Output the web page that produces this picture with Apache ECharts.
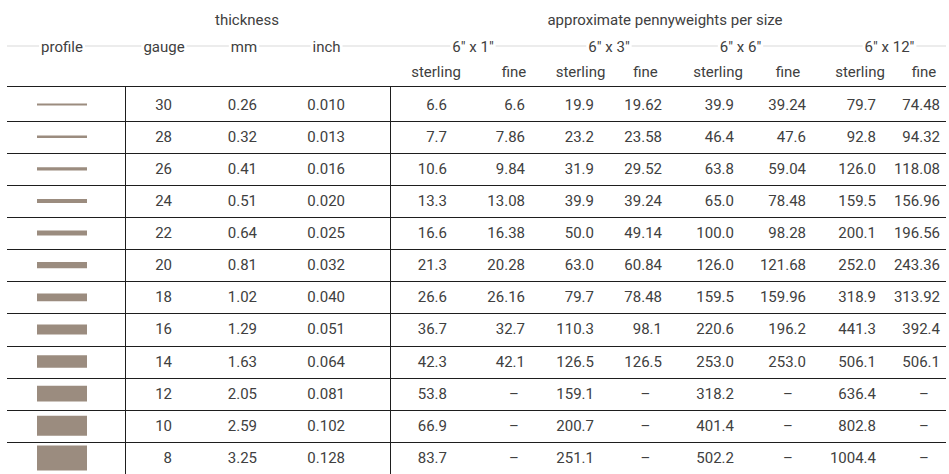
<!DOCTYPE html>
<html>
<head>
<meta charset="utf-8">
<script src="https://cdn.jsdelivr.net/npm/echarts@6/dist/echarts.min.js"></script>
<style>
html,body{margin:0;padding:0;background:#fff;}
#chart{width:949px;height:474px;}
</style>
</head>
<body>
<div id="chart"></div>
<script>
// ---- data ----
const gauge = [30, 28, 26, 24, 22, 20, 18, 16, 14, 12, 10, 8];
const mm = [0.26, 0.32, 0.41, 0.51, 0.64, 0.81, 1.02, 1.29, 1.63, 2.05, 2.59, 3.25];
const inch = [0.010, 0.013, 0.016, 0.020, 0.025, 0.032, 0.040, 0.051, 0.064, 0.081, 0.102, 0.128];
const sterling1 = [6.6, 7.7, 10.6, 13.3, 16.6, 21.3, 26.6, 36.7, 42.3, 53.8, 66.9, 83.7];
const fine1 = [6.6, 7.86, 9.84, 13.08, 16.38, 20.28, 26.16, 32.7, 42.1, null, null, null];
const sterling3 = [19.9, 23.2, 31.9, 39.9, 50.0, 63.0, 79.7, 110.3, 126.5, 159.1, 200.7, 251.1];
const fine3 = [19.62, 23.58, 29.52, 39.24, 49.14, 60.84, 78.48, 98.1, 126.5, null, null, null];
const sterling6 = [39.9, 46.4, 63.8, 65.0, 100.0, 126.0, 159.5, 220.6, 253.0, 318.2, 401.4, 502.2];
const fine6 = [39.24, 47.6, 59.04, 78.48, 98.28, 121.68, 159.96, 196.2, 253.0, null, null, null];
const sterling12 = [79.7, 92.8, 126.0, 159.5, 200.1, 252.0, 318.9, 441.3, 506.1, 636.4, 802.8, 1004.4];
const fine12 = [74.48, 94.32, 118.08, 156.96, 196.56, 243.36, 313.92, 392.4, 506.1, null, null, null];
const headTop = ['thickness', 'approximate pennyweights per size'];
const headMid = ['profile', 'gauge', 'mm', 'inch', '6" x 1"', '6" x 3"', '6" x 6"', '6" x 12"'];
const headSub = ['sterling', 'fine'];

// ---- layout ----
const FONT = '15px Roboto, "Noto Sans", sans-serif';
const TXT = '#404040';
const LINE = '#1e1e1e';
const PROFILE = '#9b8c7f';
const fmtS = v => v.toFixed(1);
const fmtF = v => Number.isInteger(v) ? v.toFixed(1) : String(v);
// column: values, formatter, header center x, right edge for values
const columns = [
  {v: gauge, f: v => String(v), c: 164, r: 172},
  {v: mm, f: v => v.toFixed(2), c: 244, r: 257},
  {v: inch, f: v => v.toFixed(3), c: 326.5, r: 345},
  {v: sterling1, f: fmtS, c: 436, r: 447},
  {v: fine1, f: fmtF, c: 514, r: 525},
  {v: sterling3, f: fmtS, c: 580.5, r: 594},
  {v: fine3, f: fmtF, c: 645.5, r: 662},
  {v: sterling6, f: fmtS, c: 718, r: 734},
  {v: fine6, f: fmtF, c: 788, r: 806},
  {v: sterling12, f: fmtS, c: 860, r: 876},
  {v: fine12, f: fmtF, c: 924, r: 940}
];
const groupCenters = [473, 609, 740.5, 889.5];
const profileX = 62, profileW = 50, profileScale = 7.7;
const tableL = 7, tableR = 946;
const headerLineY = 86;
const vLines = [125.5, 390.5];

const chart = echarts.init(document.getElementById('chart'), null, {renderer: 'svg'});

function renderRow(params, api) {
  const i = params.dataIndex;
  const p = api.coord([0, i]);
  const yc = p[1];
  const rh = api.size([0, 1])[1];
  const children = [];
  const ph = mm[i] * profileScale;
  const px = api.coord([profileX - profileW / 2, i])[0];
  children.push({type: 'rect', shape: {x: px, y: yc - ph / 2, width: profileW, height: ph}, style: {fill: PROFILE}});
  columns.forEach(col => {
    const val = col.v[i];
    if (val === null || val === undefined) {
      children.push({type: 'text', style: {text: '\u2013', x: api.coord([col.c, i])[0], y: yc, align: 'center', verticalAlign: 'middle', font: FONT, fill: TXT}});
    } else {
      children.push({type: 'text', style: {text: col.f(val), x: api.coord([col.r, i])[0], y: yc, align: 'right', verticalAlign: 'middle', font: FONT, fill: TXT}});
    }
  });
  if (i < gauge.length - 1) {
    const ly = Math.round(yc + rh / 2) + 0.5;
    children.push({type: 'line', shape: {x1: tableL, y1: ly, x2: tableR, y2: ly}, style: {stroke: LINE, lineWidth: 1}});
  }
  return {type: 'group', children: children};
}

const graphics = [];
graphics.push({type: 'rect', z: 1, shape: {x: tableL, y: 45, width: tableR - tableL, height: 2}, style: {fill: '#ececec'}});
graphics.push({type: 'line', z: 5, shape: {x1: tableL, y1: headerLineY + 0.5, x2: tableR, y2: headerLineY + 0.5}, style: {stroke: LINE, lineWidth: 1}});
vLines.forEach(x => graphics.push({type: 'line', z: 5, shape: {x1: x, y1: headerLineY, x2: x, y2: 474}, style: {stroke: LINE, lineWidth: 1}}));
function htext(t, x, y, bg) {
  const s = {text: t, font: FONT, fill: TXT, align: 'center', verticalAlign: 'middle'};
  if (bg) { s.backgroundColor = '#fff'; s.padding = [2, 2]; }
  return {type: 'text', z: 10, x: x, y: y, style: s};
}
graphics.push(htext(headTop[0], 247, 20));
graphics.push(htext(headTop[1], 665, 20));
const midX = [profileX, columns[0].c, columns[1].c, columns[2].c].concat(groupCenters);
headMid.forEach((t, k) => graphics.push(htext(t, midX[k], 47, true)));
for (let k = 3; k < columns.length; k++) {
  graphics.push(htext(headSub[(k - 3) % 2], columns[k].c, 72));
}

chart.setOption({
  animation: false,
  grid: {left: 0, right: 0, top: 88.5, height: 386.4},
  xAxis: {type: 'value', min: 0, max: 949, show: false},
  yAxis: {type: 'category', data: gauge.map(String), inverse: true, show: false},
  graphic: graphics,
  series: [{
    type: 'custom',
    clip: false,
    encode: {x: 0, y: 1},
    data: gauge.map((g, i) => [0, i]),
    renderItem: renderRow
  }]
});
</script>
</body>
</html>
